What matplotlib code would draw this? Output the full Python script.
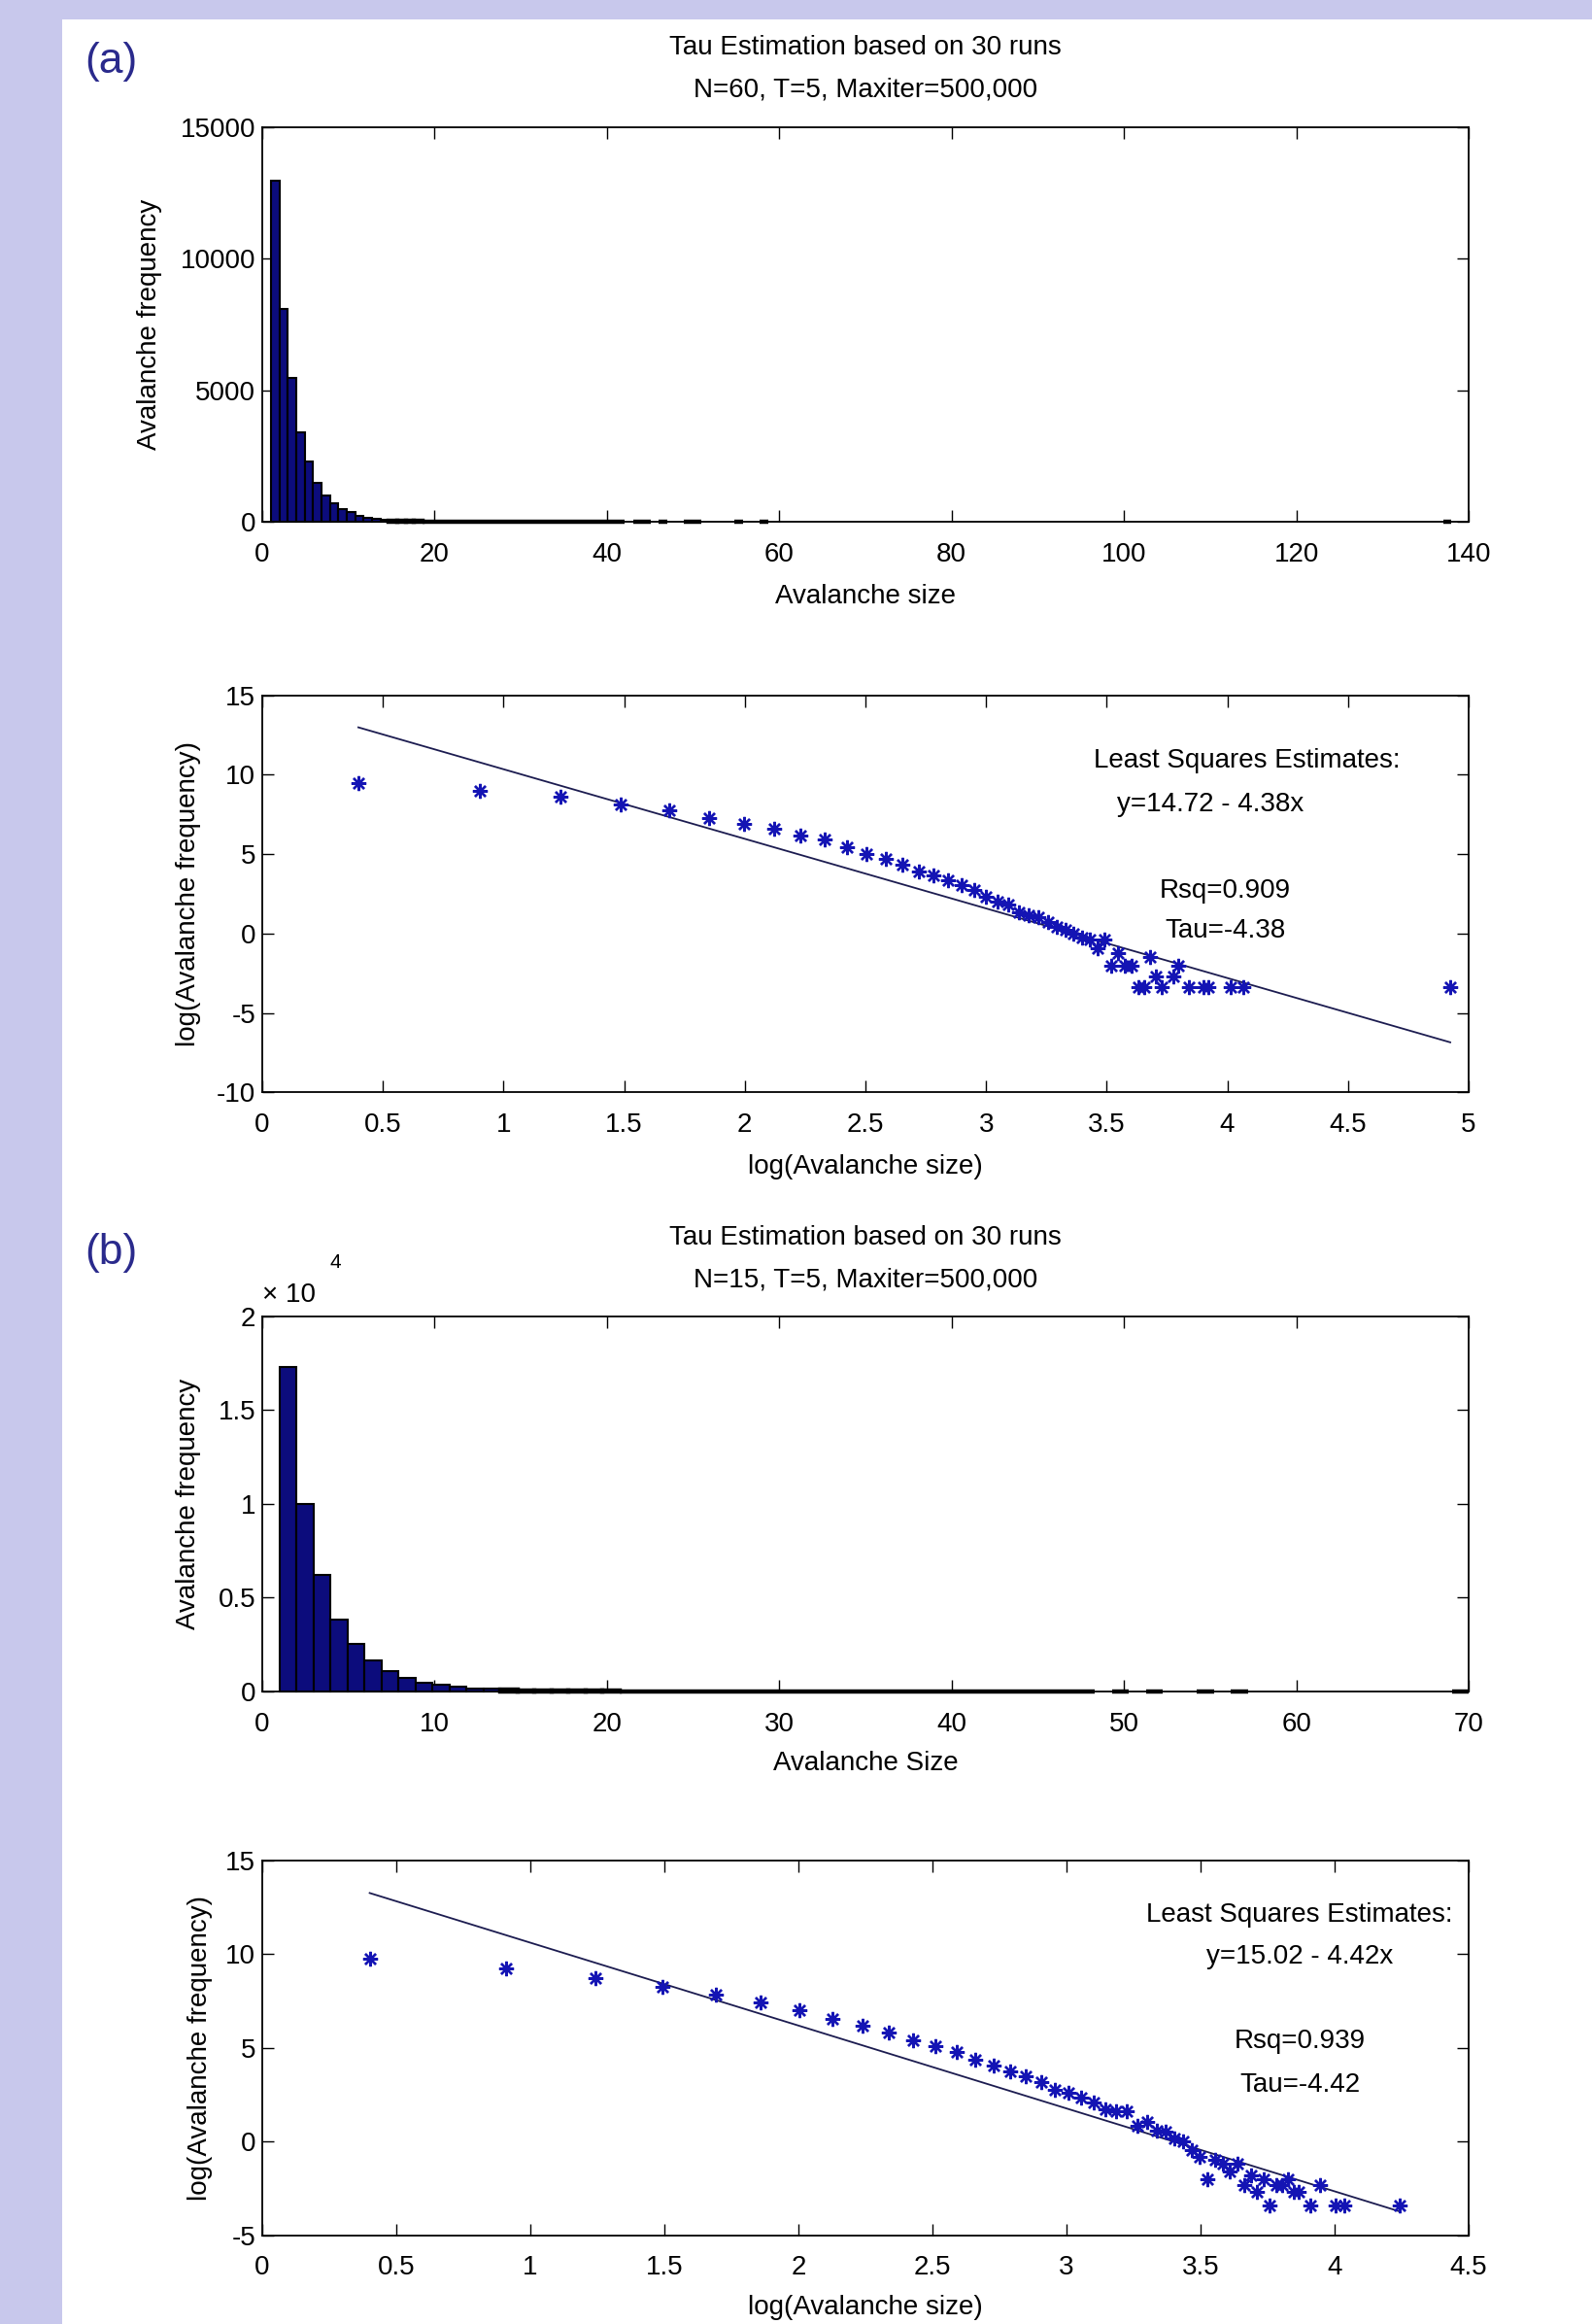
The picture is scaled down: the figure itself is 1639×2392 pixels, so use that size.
import numpy as np
import matplotlib
matplotlib.use("Agg")
import matplotlib.pyplot as plt
from matplotlib.patches import Rectangle
from matplotlib.ticker import FuncFormatter

plt.rcParams["font.family"] = ["Liberation Sans", "DejaVu Sans"]

# (a) N=60: hist over sizes 1..138 in 140 bins, mean frequency per bin over 30 runs
hist_range_a = (1, 138, 140)
bins_a = [0, 1, 2, 3, 4, 5, 6, 7, 8, 9, 10, 11, 12, 13, 14, 15, 16, 17, 18, 19,
          20, 21, 22, 23, 24, 25, 26, 27, 28, 29, 30, 31, 32, 33, 34, 35, 36,
          37, 38, 39, 40, 41, 43, 44, 46, 49, 50, 55, 58, 139]
freq_a = [12970, 8100, 5450, 3400, 2300, 1465, 990, 720, 483, 365,
          226, 151, 111, 78.3, 49.4, 38.5, 28.5, 20.9, 15.3, 10.3,
          7.39, 6.36, 3.71, 3.16, 2.72, 2.08, 1.52, 1.30, 0.97, 0.79,
          0.667, 0.40, 0.667, 0.133, 0.30, 0.133, 0.133,
          0.0333, 0.0333, 0.233, 0.0667, 0.0333, 0.0667, 0.133, 0.0333,
          0.0333, 0.0333, 0.0333, 0.0333, 0.0333]
fit_a = (14.72, 4.38)
rsq_a, tau_a = "0.909", "-4.38"
title_a = "Tau Estimation based on 30 runs\nN=60, T=5, Maxiter=500,000"

# (b) N=15: hist over sizes 1..70 in 70 bins
hist_range_b = (1, 70, 70)
bins_b = [0, 1, 2, 3, 4, 5, 6, 7, 8, 9, 10, 11, 12, 13, 14, 15, 16, 17, 18, 19,
          20, 21, 22, 23, 24, 25, 26, 27, 28, 29, 30, 31, 32, 33, 34, 35, 36,
          37, 38, 39, 40, 41, 42, 43, 44, 45, 46, 47, 49, 51, 54, 56, 69]
freq_b = [17300, 10000, 6200, 3800, 2500, 1640, 1085, 700, 470, 335,
          221, 164, 116, 77.5, 57.4, 42.5, 32.5, 24.0, 15.6, 13.5,
          10.2, 7.85, 5.58, 5.10, 5.10, 2.34, 2.89, 1.82, 1.68, 1.20,
          1.0, 0.633, 0.433, 0.133, 0.367, 0.30, 0.20, 0.30, 0.10,
          0.167, 0.0667, 0.133, 0.0333, 0.10, 0.10, 0.133, 0.0667, 0.0667,
          0.0333, 0.10, 0.0333, 0.0333, 0.0333]
fit_b = (15.02, 4.42)
rsq_b, tau_b = "0.939", "-4.42"
title_b = "Tau Estimation based on 30 runs\nN=15, T=5, Maxiter=500,000"

FS = 20
BAR_COLOR = "#0c0c7c"
STAR_COLOR = "#1414b4"
LINE_COLOR = "#1c1c50"
fmt_g = FuncFormatter(lambda v, p: "%g" % v)


def bin_centers(hist_range, bins):
    lo, hi, n = hist_range
    width = (hi - lo) / n
    return lo + (np.asarray(bins) + 0.5) * width, width


def style_axes(ax):
    ax.tick_params(direction="in", length=8.5, width=1.0, top=True, right=True,
                   labelsize=FS)
    ax.tick_params(axis="x", pad=15)
    ax.tick_params(axis="y", pad=5)
    for sp in ax.spines.values():
        sp.set_linewidth(1.3)


def hist_panel(ax, hist_range, bins, freq, xmax, xstep, ymax, ystep, xlabel, title,
               title_y, scaled=False):
    centers, width = bin_centers(hist_range, bins)
    # near-empty bins get a heavier outline so they show on the axis like in MATLAB
    lws = [3.2 if f < 0.004 * ymax else 1.5 for f in freq]
    bars = ax.bar(centers, freq, width=width, color=BAR_COLOR, edgecolor="black",
                  linewidth=lws, zorder=2)
    for b in bars:
        b.set_clip_on(False)
    ax.set_xlim(0, xmax)
    ax.set_ylim(0, ymax)
    ax.set_xticks(np.arange(0, xmax + 1e-9, xstep))
    ax.set_yticks(np.arange(0, ymax + 1e-9, ystep))
    ax.xaxis.set_major_formatter(fmt_g)
    if scaled:
        ax.yaxis.set_major_formatter(FuncFormatter(lambda v, p: "%g" % (v / 1e4)))
        ax.text(0.0, 1.057, "\u00d7 10", transform=ax.transAxes, fontsize=FS,
                ha="left", va="center")
        ax.text(0.0556, 1.142, "4", transform=ax.transAxes, fontsize=15,
                ha="left", va="center")
    else:
        ax.yaxis.set_major_formatter(fmt_g)
    style_axes(ax)
    ax.set_xlabel(xlabel, fontsize=FS, va="center")
    ax.set_ylabel("Avalanche frequency", fontsize=FS, va="center")
    line1, line2 = title.split("\n")
    ax.text(0.5, title_y[0], line1, transform=ax.transAxes, fontsize=FS,
            ha="center", va="center")
    ax.text(0.5, title_y[1], line2, transform=ax.transAxes, fontsize=FS,
            ha="center", va="center")


def log_panel(ax, hist_range, bins, freq, fit, rsq, tau, xmax, ylim, text_pos):
    centers, _ = bin_centers(hist_range, bins)
    lx = np.log(centers)
    ly = np.log(np.asarray(freq, dtype=float))
    a, b = fit
    xs = np.array([lx.min(), lx.max()])
    ax.plot(xs, a - b * xs, color=LINE_COLOR, linewidth=1.3, zorder=2)
    ax.plot(lx, ly, linestyle="none", marker=(8, 2, 0), markersize=11,
            markeredgewidth=1.7, color=STAR_COLOR, zorder=3)
    ax.set_xlim(0, xmax)
    ax.set_ylim(*ylim)
    ax.set_xticks(np.arange(0, xmax + 1e-9, 0.5))
    ax.set_yticks(np.arange(ylim[0], ylim[1] + 1e-9, 5))
    ax.xaxis.set_major_formatter(fmt_g)
    ax.yaxis.set_major_formatter(fmt_g)
    style_axes(ax)
    ax.set_xlabel("log(Avalanche size)", fontsize=FS, va="center")
    ax.set_ylabel("log(Avalanche frequency)", fontsize=FS, va="center")
    texts = ["Least Squares Estimates:", "y=%.2f - %.2fx" % (a, b),
             "Rsq=" + rsq, "Tau=" + tau]
    for t, (tx, ty) in zip(texts, text_pos):
        ax.text(tx, ty, t, fontsize=FS, ha="center", va="center")


fig = plt.figure(figsize=(16.4, 23.92), dpi=100)
fig.patch.set_facecolor("#c8c8ec")
fig.patches.append(Rectangle((64 / 1640, 0), 1 - 64 / 1640, 1 - 20 / 2392,
                             transform=fig.transFigure, facecolor="white",
                             edgecolor="none", zorder=-10))

L, W = 0.16463, 0.75732
ax1 = fig.add_axes([L, 0.77550, W, 0.16973])
ax2 = fig.add_axes([L, 0.52993, W, 0.17094])
ax3 = fig.add_axes([L, 0.27228, W, 0.16137])
ax4 = fig.add_axes([L, 0.03821, W, 0.16137])

hist_panel(ax1, hist_range_a, bins_a, freq_a, 140, 20, 15000, 5000,
           "Avalanche size", title_a, (1.202, 1.094))
log_panel(ax2, hist_range_a, bins_a, freq_a, fit_a, rsq_a, tau_a, 5, (-10, 15),
          [(4.08, 10.86), (3.93, 8.10), (3.99, 2.70), (3.99, 0.16)])
hist_panel(ax3, hist_range_b, bins_b, freq_b, 70, 10, 20000, 5000,
           "Avalanche Size", title_b, (1.210, 1.096), scaled=True)
log_panel(ax4, hist_range_b, bins_b, freq_b, fit_b, rsq_b, tau_b, 4.5, (-5, 15),
          [(3.87, 12.08), (3.87, 9.83), (3.87, 5.33), (3.87, 2.99)])

ax1.yaxis.set_label_coords(-0.0934, 0.5)
ax2.yaxis.set_label_coords(-0.061, 0.5)
ax3.yaxis.set_label_coords(-0.061, 0.5)
ax4.yaxis.set_label_coords(-0.0515, 0.5)
ax1.xaxis.set_label_coords(0.5, -0.19)
ax2.xaxis.set_label_coords(0.5, -0.187)
ax3.xaxis.set_label_coords(0.5, -0.193)
ax4.xaxis.set_label_coords(0.5, -0.193)

fig.text(114 / 1640, 1 - 64 / 2392, "(a)", fontsize=32, color="#2a2a8c",
         ha="center", va="center")
fig.text(114 / 1640, 1 - 1289 / 2392, "(b)", fontsize=32, color="#2a2a8c",
         ha="center", va="center")

fig.savefig("out.png", dpi=100, facecolor=fig.get_facecolor())
